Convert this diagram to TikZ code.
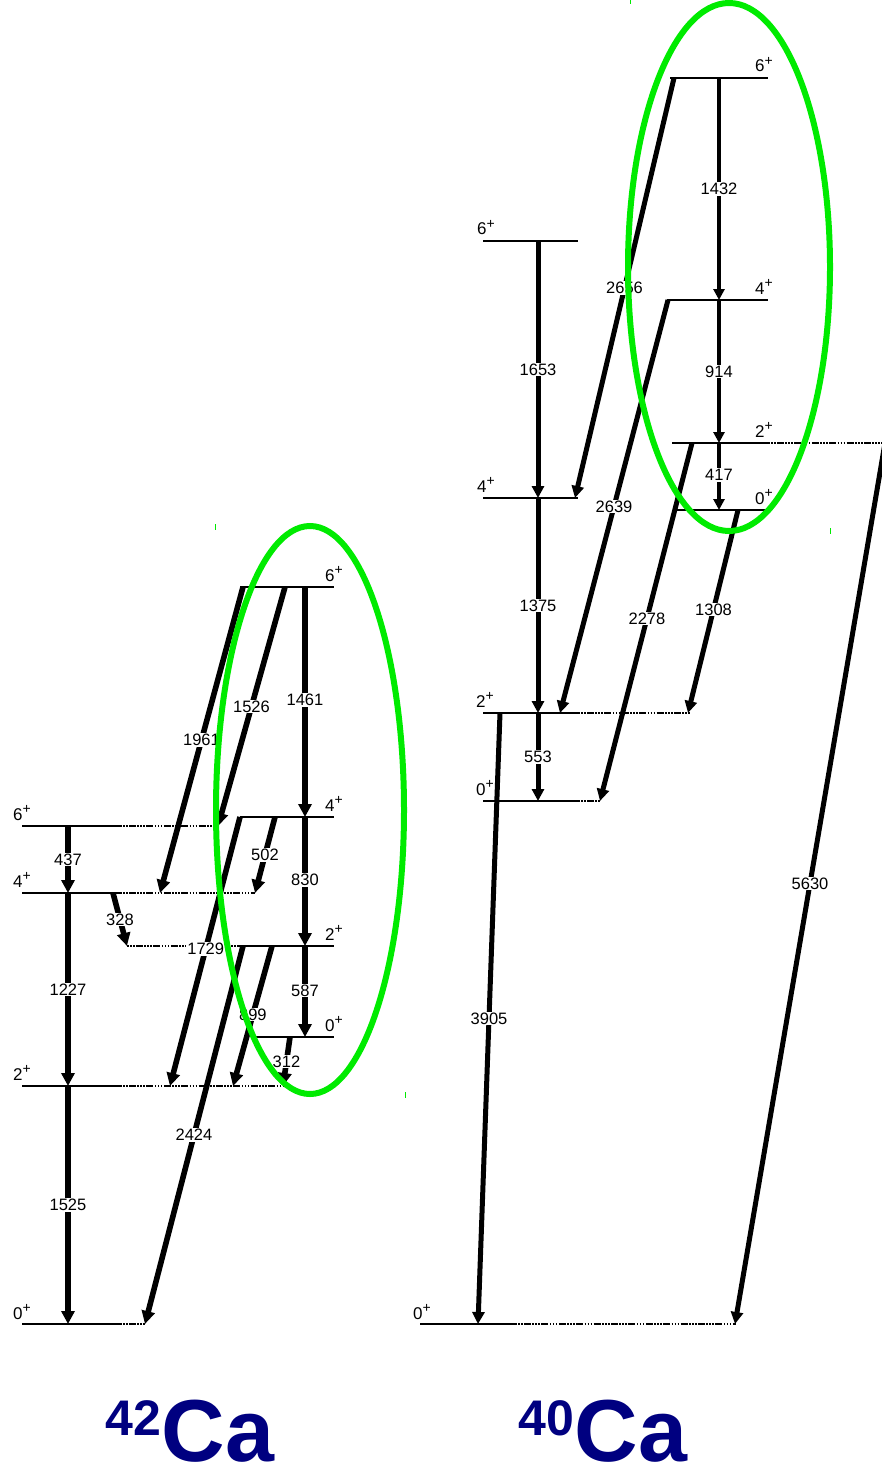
\documentclass[tikz,border=0pt]{standalone}
\usepackage{fontspec}
\setmainfont{Liberation Sans}
\usetikzlibrary{arrows.meta}
\definecolor{nucblue}{RGB}{0,0,128}
\definecolor{markgreen}{RGB}{0,235,0}
\newcommand\spinp[1]{#1\raisebox{0.38em}{\fontsize{14}{14}\selectfont +}}
\begin{document}
\begin{tikzpicture}[x=1pt,y=-1pt,
  lvl/.style={line width=1.9pt},
  ext/.style={line width=1.7pt, dash pattern=on 1.6pt off 1.4pt on 1.6pt off 1.4pt on 1.6pt off 1.4pt on 7pt off 1.4pt},
  gam/.style={line width=5.6pt, -{Triangle[length=13pt,width=13pt]}},
  gammid/.style={line width=5pt, -{Triangle[length=12pt,width=12pt]}},
  gamthin/.style={line width=3.3pt, -{Triangle[length=11pt,width=11pt]}},
  en/.style={fill=white, inner sep=1pt, font=\fontsize{16.5}{16.5}\selectfont},
  spinl/.style={inner sep=0pt, font=\fontsize{17}{17}\selectfont},
  ring/.style={draw=markgreen, line width=6pt},
  tick/.style={draw=markgreen, line width=1pt},
  title/.style={inner sep=0pt, text=nucblue, font=\fontsize{88}{88}\selectfont\bfseries}]
\useasboundingbox (0,0) rectangle (882,1471);
\clip (0,0) rectangle (882,1471);

% ---------------- 42Ca : level lines ----------------
\coordinate (a6L) at (22,826);  \coordinate (a6R) at (120,826);  \coordinate (a6E) at (218,826);
\coordinate (a4L) at (22,893);  \coordinate (a4R) at (120,893);  \coordinate (a4E) at (255,893);
\coordinate (a2L) at (22,1086); \coordinate (a2R) at (120,1086); \coordinate (a2E) at (290,1086);
\coordinate (a0L) at (22,1324); \coordinate (a0R) at (120,1324); \coordinate (a0E) at (146,1324);
\coordinate (b6L) at (240,587); \coordinate (b6R) at (334,587);
\coordinate (b4L) at (240,817); \coordinate (b4R) at (334,817);
\coordinate (b2X) at (127,946); \coordinate (b2L) at (238,946); \coordinate (b2R) at (334,946);
\coordinate (b0L) at (255,1037); \coordinate (b0R) at (334,1037);

\draw[lvl] (a6L) -- (a6R); \draw[ext] (a6R) -- (a6E);
\draw[lvl] (a4L) -- (a4R); \draw[ext] (a4R) -- (a4E);
\draw[lvl] (a2L) -- (a2R); \draw[ext] (a2R) -- (a2E);
\draw[lvl] (a0L) -- (a0R); \draw[ext] (a0R) -- (a0E);
\draw[lvl] (b6L) -- (b6R);
\draw[lvl] (b4L) -- (b4R);
\draw[ext] (b2X) -- (b2L); \draw[lvl] (b2L) -- (b2R);
\draw[lvl] (b0L) -- (b0R);

\node[spinl, anchor=base west] (sa6) at (13,820)  {\spinp{6}};
\node[spinl, anchor=base west] (sa4) at (13,887)  {\spinp{4}};
\node[spinl, anchor=base west] (sa2) at (13,1080) {\spinp{2}};
\node[spinl, anchor=base west] (sa0) at (13,1319) {\spinp{0}};
\node[spinl, anchor=base east] (sb6) at (343,581)  {\spinp{6}};
\node[spinl, anchor=base east] (sb4) at (343,811)  {\spinp{4}};
\node[spinl, anchor=base east] (sb2) at (343,940)  {\spinp{2}};
\node[spinl, anchor=base east] (sb0) at (343,1031) {\spinp{0}};

% ---------------- 42Ca : transitions ----------------
\coordinate (t437a) at (68,826);  \coordinate (t437b) at (68,893);
\coordinate (t1227b) at (68,1086); \coordinate (t1525b) at (68,1324);
\draw[gam] (t437a) -- node[en,pos=0.5]{437} (t437b);
\draw[gam] (t437b) -- node[en,pos=0.5]{1227} (t1227b);
\draw[gam] (t1227b) -- node[en,pos=0.5]{1525} (t1525b);

\coordinate (v6) at (305,587); \coordinate (v4) at (305,817);
\coordinate (v2) at (305,946); \coordinate (v0) at (305,1037);
\draw[gam] (v6) -- node[en,pos=0.49]{1461} (v4);
\draw[gam] (v4) -- node[en,pos=0.49]{830} (v2);
\draw[gam] (v2) -- node[en,pos=0.49]{587} (v0);

\coordinate (s1961a) at (243,587); \coordinate (s1961b) at (160,893);
\coordinate (s1526a) at (285,587); \coordinate (s1526b) at (218,826);
\coordinate (s502a)  at (275,817); \coordinate (s502b)  at (255,893);
\coordinate (s1729a) at (240,817); \coordinate (s1729b) at (170,1086);
\coordinate (s899a)  at (272,946); \coordinate (s899b)  at (233,1086);
\coordinate (s2424a) at (243,946); \coordinate (s2424b) at (145,1324);
\coordinate (s312a)  at (290,1037); \coordinate (s312b) at (283,1086);
\coordinate (s328a)  at (113,893); \coordinate (s328b)  at (127,946);
\draw[gam] (s1961a) -- node[en,pos=0.5]{1961} (s1961b);
\draw[gam] (s1526a) -- node[en,pos=0.5]{1526} (s1526b);
\draw[gam] (s502a)  -- node[en,pos=0.5]{502} (s502b);
\draw[gam] (s1729a) -- node[en,pos=0.49]{1729} (s1729b);
\draw[gam] (s899a)  -- node[en,pos=0.49]{899} (s899b);
\draw[gam] (s2424a) -- node[en,pos=0.5]{2424} (s2424b);
\draw[gam] (s312a)  -- node[en,pos=0.5]{312} (s312b);
\draw[gam] (s328a)  -- node[en,pos=0.5]{328} (s328b);

% ---------------- 40Ca : level lines ----------------
\coordinate (c6L) at (483,241); \coordinate (c6R) at (578,241);
\coordinate (c4L) at (483,498); \coordinate (c4R) at (578,498);
\coordinate (c2L) at (483,713); \coordinate (c2R) at (578,713); \coordinate (c2E) at (690,713);
\coordinate (c0L) at (483,801); \coordinate (c0R) at (578,801); \coordinate (c0E) at (601,801);
\coordinate (g0L) at (420,1324); \coordinate (g0R) at (515,1324); \coordinate (g0E) at (736,1324);
\coordinate (d6L) at (670,78);  \coordinate (d6R) at (768,78);
\coordinate (d4L) at (667,300); \coordinate (d4R) at (768,300);
\coordinate (d2L) at (672,443); \coordinate (d2R) at (768,443); \coordinate (d2E) at (900,443);
\coordinate (d0L) at (677,510); \coordinate (d0R) at (765,510);

\draw[lvl] (c6L) -- (c6R);
\draw[lvl] (c4L) -- (c4R);
\draw[lvl] (c2L) -- (c2R); \draw[ext] (c2R) -- (c2E);
\draw[lvl] (c0L) -- (c0R); \draw[ext] (c0R) -- (c0E);
\draw[lvl] (g0L) -- (g0R); \draw[ext] (g0R) -- (g0E);
\draw[lvl] (d6L) -- (d6R);
\draw[lvl] (d4L) -- (d4R);
\draw[lvl] (d2L) -- (d2R); \draw[ext] (d2R) -- (d2E);
\draw[lvl] (d0L) -- (d0R);

\node[spinl, anchor=base west] (sc6) at (477,235) {\spinp{6}};
\node[spinl, anchor=base west] (sc4) at (477,492) {\spinp{4}};
\node[spinl, anchor=base west] (sc2) at (476,707) {\spinp{2}};
\node[spinl, anchor=base west] (sc0) at (476,795) {\spinp{0}};
\node[spinl, anchor=base west] (sg0) at (413,1319) {\spinp{0}};
\node[spinl, anchor=base east] (sd6) at (773,72)  {\spinp{6}};
\node[spinl, anchor=base east] (sd4) at (773,294) {\spinp{4}};
\node[spinl, anchor=base east] (sd2) at (773,437) {\spinp{2}};
\node[spinl, anchor=base east] (sd0) at (773,504) {\spinp{0}};

% ---------------- 40Ca : transitions ----------------
\coordinate (u6) at (538,241); \coordinate (u4) at (538,498);
\coordinate (u2) at (538,713); \coordinate (u0) at (538,801);
\draw[gammid] (u6) -- node[en,pos=0.5]{1653} (u4);
\draw[gammid] (u4) -- node[en,pos=0.5]{1375} (u2);
\draw[gammid] (u2) -- node[en,pos=0.5]{553} (u0);

\coordinate (w6) at (719,78);  \coordinate (w4) at (719,300);
\coordinate (w2) at (719,443); \coordinate (w0) at (719,510);
\draw[gamthin] (w6) -- node[en,pos=0.5]{1432} (w4);
\draw[gamthin] (w4) -- node[en,pos=0.5]{914} (w2);
\draw[gamthin] (w2) -- node[en,pos=0.48]{417} (w0);

\coordinate (r3905a) at (500,713); \coordinate (r3905b) at (478,1324);
\coordinate (r2656a) at (674,78);  \coordinate (r2656b) at (575,498);
\coordinate (r2639a) at (668,300); \coordinate (r2639b) at (560,713);
\coordinate (r2278a) at (692,443); \coordinate (r2278b) at (600,801);
\coordinate (r1308a) at (738,510); \coordinate (r1308b) at (688,713);
\coordinate (r5630a) at (885,443); \coordinate (r5630b) at (735,1324);
\draw[gammid] (r3905a) -- node[en,pos=0.5]{3905} (r3905b);
\draw[gammid] (r2656a) -- node[en,pos=0.5]{2656} (r2656b);
\draw[gammid] (r2639a) -- node[en,pos=0.5]{2639} (r2639b);
\draw[gammid] (r2278a) -- node[en,pos=0.49]{2278} (r2278b);
\draw[gammid] (r1308a) -- node[en,pos=0.49]{1308} (r1308b);
\draw[gammid] (r5630a) -- node[en,pos=0.5]{5630} (r5630b);

% ---------------- highlight rings ----------------
\draw[ring] (310,810) ellipse [x radius=94, y radius=284];
\draw[ring] (729,267) ellipse [x radius=101, y radius=264];
\draw[tick] (215,524) -- (215,530);
\draw[tick] (405,1092) -- (405,1098);
\draw[tick] (630,0) -- (630,4);
\draw[tick] (830,528) -- (830,534);

% ---------------- nucleus names ----------------
\node[title, anchor=base] (n42) at (190,1461) {\raisebox{26pt}{\fontsize{50}{50}\selectfont 42}Ca};
\node[title, anchor=base] (n40) at (603,1461) {\raisebox{26pt}{\fontsize{50}{50}\selectfont 40}Ca};
\end{tikzpicture}
\end{document}
